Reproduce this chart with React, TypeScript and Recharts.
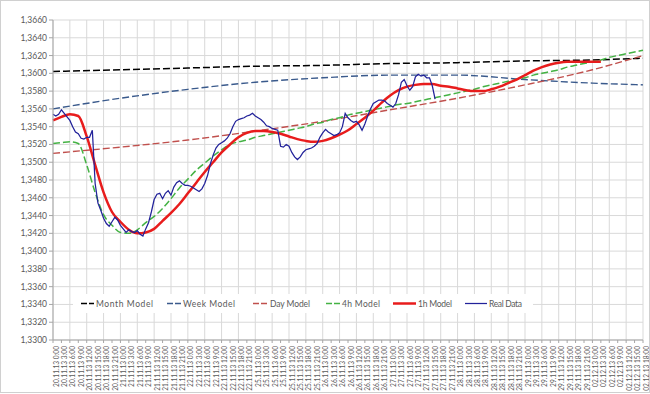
import { CartesianGrid, Line, LineChart, XAxis, YAxis } from "recharts"

const days = ["20.11.13", "21.11.13", "22.11.13", "25.11.13", "26.11.13", "27.11.13", "28.11.13", "29.11.13", "02.12.13"]
const clock = ["0:00", "3:00", "6:00", "9:00", "12:00", "15:00", "18:00", "21:00"]
const xLabels = days.flatMap(d => clock.map(c => d + " " + c)).slice(0, 71)
const yTicks = [1.33, 1.332, 1.334, 1.336, 1.338, 1.34, 1.342, 1.344, 1.346, 1.348, 1.35, 1.352, 1.354, 1.356, 1.358, 1.36, 1.362, 1.364, 1.366]

// hourly closes
const realData = [
    1.3554, 1.3552, 1.3554, 1.3559, 1.3555, 1.3551, 1.3547, 1.3540, 1.3534, 1.3532,
    1.3527, 1.3526, 1.3528, 1.3528, 1.3536, 1.3476, 1.3454, 1.3446, 1.3437, 1.3431,
    1.3428, 1.3433, 1.3438, 1.3435, 1.3429, 1.3425, 1.3421, 1.3424, 1.3422, 1.3421,
    1.3423, 1.3419, 1.3417, 1.3425, 1.3432, 1.3444, 1.3458, 1.3464, 1.3465, 1.3459,
    1.3465, 1.3468, 1.3463, 1.3472, 1.3477, 1.3479, 1.3476, 1.3474, 1.3474, 1.3473,
    1.3471, 1.3469, 1.3467, 1.3470, 1.3476, 1.3485, 1.3498, 1.3508, 1.3516, 1.3520,
    1.3522, 1.3524, 1.3527, 1.3532, 1.3540, 1.3546, 1.3548, 1.3549, 1.3550, 1.3552,
    1.3553, 1.3555, 1.3552, 1.3550, 1.3548, 1.3545, 1.3541, 1.3540, 1.3538, 1.3537,
    1.3536, 1.3518, 1.3517, 1.3520, 1.3518, 1.3511, 1.3506, 1.3503, 1.3506, 1.3511,
    1.3514, 1.3515, 1.3516, 1.3518, 1.3521, 1.3528, 1.3533, 1.3537, 1.3534, 1.3532,
    1.3530, 1.3531, 1.3533, 1.3540, 1.3555, 1.3550, 1.3547, 1.3545, 1.3546, 1.3542,
    1.3536, 1.3543, 1.3552, 1.3560, 1.3566, 1.3568, 1.3570, 1.3570, 1.3569, 1.3566,
    1.3564, 1.3562, 1.3566, 1.3576, 1.3590, 1.3593, 1.3586, 1.3581, 1.3585, 1.3596,
    1.3599, 1.3597, 1.3598, 1.3595, 1.3595, 1.3586, 1.3571,
]

// every 3 hours
const oneHourModel = [
    1.3547, 1.3551, 1.3554, 1.3552, 1.3529, 1.3497, 1.3466, 1.3444, 1.3433, 1.3424,
    1.3420, 1.3421, 1.3425, 1.3434, 1.3443, 1.3453, 1.3465, 1.3477, 1.3489, 1.3500,
    1.3511, 1.3520, 1.3528, 1.3533, 1.3535, 1.3535, 1.3534, 1.3532, 1.3529, 1.3526,
    1.3524, 1.3523, 1.3524, 1.3527, 1.3531, 1.3536, 1.3543, 1.3550, 1.3558, 1.3567,
    1.3575, 1.3581, 1.3585, 1.3587, 1.3588, 1.3588, 1.3586, 1.3585, 1.3583, 1.3581,
    1.3580, 1.3580, 1.3582, 1.3585, 1.3589, 1.3593, 1.3598, 1.3603, 1.3607, 1.3610,
    1.3612, 1.3613, 1.3613, 1.3613, 1.3613, 1.3613,
]

// every 3 hours
const fourHourModel = [
    1.3521, 1.3522, 1.3523, 1.3521, 1.3497, 1.3466, 1.3441, 1.3429, 1.3421, 1.3420,
    1.3424, 1.3432, 1.3439, 1.3448, 1.3459, 1.3471, 1.3481, 1.3491, 1.3499, 1.3507,
    1.3514, 1.3520, 1.3523, 1.3525, 1.3528, 1.3530, 1.3532, 1.3534, 1.3536, 1.3538,
    1.3540, 1.3543, 1.3545, 1.3548, 1.3550, 1.3553, 1.3555, 1.3557, 1.3559, 1.3561,
    1.3563, 1.3565, 1.3566, 1.3568, 1.3570, 1.3572, 1.3574, 1.3576, 1.3578, 1.3580,
    1.3582, 1.3585, 1.3587, 1.3589, 1.3591, 1.3593, 1.3595, 1.3598, 1.3600, 1.3602,
    1.3604, 1.3607, 1.3609, 1.3611, 1.3613, 1.3615, 1.3618, 1.3620, 1.3622, 1.3624,
    1.3626,
]

const modelHours = [0, 24, 48, 72, 96, 120, 144, 168, 192, 210]
const monthModel = [1.3602, 1.3604, 1.3606, 1.3608, 1.3609, 1.3611, 1.3612, 1.3614, 1.3615, 1.3617]
const weekModel = [1.3560, 1.3572, 1.3582, 1.3590, 1.3595, 1.3598, 1.3598, 1.3593, 1.3589, 1.3587]
const dayModel = [1.3510, 1.3517, 1.3525, 1.3535, 1.3546, 1.3559, 1.3572, 1.3587, 1.3604, 1.3620]

const lastHour = (xLabels.length - 1) * 3
const xTicks = xLabels.map((_, i) => i * 3)
const gridHours = xTicks.filter(h => h % 6 === 0)

const FONT = "Lato, 'Noto Sans', sans-serif"
const TEXT = "#595959"

type Row = { h: number, real?: number, h1?: number, h4?: number, day?: number, week?: number, month?: number }

function buildRows() {
    const rows: Row[] = []
    for (let h = 0; h <= lastHour; h++) {
        const row: Row = { h }
        if (h < realData.length) row.real = realData[h]
        if (h % 3 === 0) {
            const i = h / 3
            if (i < oneHourModel.length) row.h1 = oneHourModel[i]
            if (i < fourHourModel.length) row.h4 = fourHourModel[i]
        }
        const m = modelHours.indexOf(h)
        if (m >= 0) {
            row.month = monthModel[m]
            row.week = weekModel[m]
            row.day = dayModel[m]
        }
        rows.push(row)
    }
    return rows
}

function XTick(props: any) {
    const { x, y, payload } = props
    const px = x + 2.5
    const py = y + 1
    return (
        <text x={px} y={py} transform={`rotate(-90 ${px} ${py})`} textAnchor="end" dominantBaseline="central"
            fontSize={6.6} fontFamily={FONT} fill={TEXT}>
            {xLabels[payload.value / 3]}
        </text>
    )
}

const legendItems = [
    { name: "Month Model", color: "#000000", dash: "6 2", width: 1.5, x1: 81, x2: 94, tx: 96, tw: 57 },
    { name: "Week Model", color: "#3A5A8C", dash: "6 2", width: 1.5, x1: 167, x2: 181, tx: 183, tw: 52 },
    { name: "Day Model", color: "#C0504D", dash: "6 2", width: 1.5, x1: 253, x2: 267, tx: 270, tw: 40 },
    { name: "4h Model", color: "#44B244", dash: "6 2", width: 1.5, x1: 326, x2: 340, tx: 342, tw: 38 },
    { name: "1h Model", color: "#E81C1C", dash: undefined, width: 2.5, x1: 393, x2: 416, tx: 418, tw: 34 },
    { name: "Real Data", color: "#22229A", dash: undefined, width: 1.25, x1: 465, x2: 487, tx: 489, tw: 33 },
]

function LegendBox() {
    return (
        <svg width={650} height={394} style={{ position: "absolute", left: 0, top: 0, pointerEvents: "none" }}>
            <rect x={73} y={294} width={460} height={19} fill="#ffffff" />
            {legendItems.map(it => (
                <g key={it.name}>
                    <line x1={it.x1} x2={it.x2} y1={303.5} y2={303.5} stroke={it.color} strokeWidth={it.width} strokeDasharray={it.dash} />
                    <text x={it.tx} y={303.5} dominantBaseline="central" fontSize={8.5} fontFamily={FONT} fill={TEXT}
                        textLength={it.tw} lengthAdjust="spacing">{it.name}</text>
                </g>
            ))}
        </svg>
    )
}

export default function App() {
    const rows = buildRows()
    return (
        <div style={{ position: "absolute", left: 0, top: 0, width: 650, height: 394, background: "#fff" }}>
            <LineChart width={650} height={394} data={rows} margin={{ top: 20, right: 7, left: 0, bottom: 0 }}>
                <CartesianGrid stroke="#D9D9D9" strokeWidth={1}
                    verticalCoordinatesGenerator={({ offset }: any) => gridHours.map(h => offset.left + offset.width * h / lastHour)} />
                <XAxis dataKey="h" type="number" domain={[0, lastHour]} ticks={xTicks} interval={0} height={54}
                    tick={<XTick />} tickSize={3} stroke="#A6A6A6" />
                <YAxis type="number" domain={[1.33, 1.366]} ticks={yTicks} interval={0} width={53} tickSize={4}
                    stroke="#A6A6A6" allowDataOverflow
                    tick={{ fontSize: 8.5, fontFamily: FONT, fill: TEXT }}
                    tickFormatter={(v: number) => v.toFixed(4).replace(".", ",")} />
                <Line dataKey="month" type="monotone" stroke="#000000" strokeWidth={1.5} strokeDasharray="7 3" dot={false} activeDot={false} connectNulls isAnimationActive={false} />
                <Line dataKey="week" type="monotone" stroke="#3A5A8C" strokeWidth={1.4} strokeDasharray="7 3" dot={false} activeDot={false} connectNulls isAnimationActive={false} />
                <Line dataKey="day" type="monotone" stroke="#C0504D" strokeWidth={1.4} strokeDasharray="7 3" dot={false} activeDot={false} connectNulls isAnimationActive={false} />
                <Line dataKey="h4" type="monotone" stroke="#44B244" strokeWidth={1.5} strokeDasharray="7 3" dot={false} activeDot={false} connectNulls isAnimationActive={false} />
                <Line dataKey="h1" type="monotone" stroke="#E81C1C" strokeWidth={2.5} dot={false} activeDot={false} connectNulls isAnimationActive={false} />
                <Line dataKey="real" type="linear" stroke="#22229A" strokeWidth={1.25} dot={false} activeDot={false} connectNulls isAnimationActive={false} />
            </LineChart>
            <LegendBox />
            <div style={{ position: "absolute", left: 0, top: 0, width: 650, height: 393, boxSizing: "border-box", border: "1px solid #D0D0D0", pointerEvents: "none" }} />
        </div>
    )
}
